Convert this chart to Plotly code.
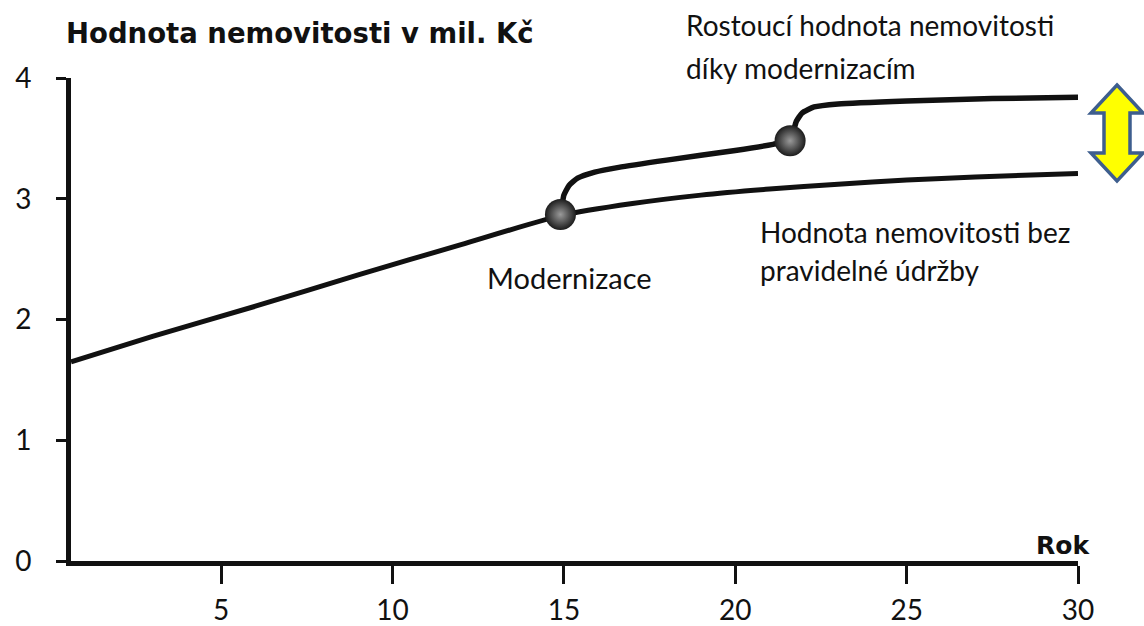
import plotly.graph_objects as go

# ---- data ----
years_base = [0.62, 3, 6, 9, 12, 14.9, 17, 19, 21, 23, 25, 27, 30]
value_base = [1.65, 1.86, 2.11, 2.37, 2.62, 2.86, 2.96, 3.03, 3.08, 3.12, 3.155, 3.18, 3.21]

years_mod = [14.9, 14.95, 15.0, 15.15, 15.4, 15.9, 16.6, 18, 20, 21.1, 21.6,
             21.7, 21.78, 21.95, 22.3, 23, 25, 27.5, 30]
value_mod = [2.87, 2.95, 3.03, 3.11, 3.17, 3.22, 3.26, 3.32, 3.40, 3.45, 3.48,
             3.56, 3.64, 3.71, 3.76, 3.785, 3.81, 3.83, 3.84]

event_years = [14.9, 21.6]
event_values = [2.87, 3.48]

x_ticks = [5, 10, 15, 20, 25, 30]
y_ticks = [0, 1, 2, 3, 4]

# ---- layout geometry (reference pixels of plot area) ----
W, H = 1144, 626
L, R, T, B = 71, 1078, 78, 561


def px(x):
    return (x - L) / (R - L)


def py(y):
    return (B - y) / (B - T)


FONT = "Lato"
TITLE_FONT = "DejaVu Sans"
fig = go.Figure()

fig.add_trace(go.Scatter(x=years_base, y=value_base, mode="lines",
                         line=dict(color="#111111", width=5, shape="spline", smoothing=0.6),
                         hoverinfo="skip", showlegend=False))
fig.add_trace(go.Scatter(x=years_mod, y=value_mod, mode="lines",
                         line=dict(color="#111111", width=5.5, shape="spline", smoothing=0.5),
                         hoverinfo="skip", showlegend=False))
fig.add_trace(go.Scatter(x=event_years, y=event_values, mode="markers",
                         marker=dict(size=31, color="#1c1c1c",
                                     gradient=dict(type="radial", color="#9a9a9a"),
                                     line=dict(width=0)),
                         hoverinfo="skip", showlegend=False))

fig.update_layout(
    width=W, height=H,
    margin=dict(l=L, r=W - R, t=T, b=H - B, pad=0, autoexpand=False),
    paper_bgcolor="white", plot_bgcolor="white",
    font=dict(family=FONT, color="#111111"),
    xaxis=dict(range=[0.62, 30], tickvals=x_ticks, ticktext=[str(v) for v in x_ticks],
               automargin=False,
               showgrid=False, zeroline=False, showline=True, linecolor="#111111", linewidth=5,
               ticks="outside", ticklen=18, tickwidth=2.5, tickcolor="#111111",
               tickfont=dict(size=28, family=FONT, color="#111111"), ticklabelstandoff=2),
    yaxis=dict(range=[0, 4], tickvals=y_ticks, ticktext=[str(v) for v in y_ticks],
               automargin=False,
               showgrid=False, zeroline=False, showline=True, linecolor="#111111", linewidth=5,
               ticks="outside", ticklen=10, tickwidth=2.5, tickcolor="#111111",
               tickfont=dict(size=28, family=FONT, color="#111111"), ticklabelstandoff=19),
)

ann = [
    dict(text="<b>Hodnota nemovitosti v mil. Kč</b>", x=px(64), y=py(33), xanchor="left", yanchor="middle", size=27.5, family=TITLE_FONT),
    dict(text="Rostoucí hodnota nemovitosti", x=px(684), y=py(25), xanchor="left", yanchor="middle", size=28, family=FONT),
    dict(text="díky modernizacím", x=px(684), y=py(68), xanchor="left", yanchor="middle", size=28, family=FONT),
    dict(text="Modernizace", x=px(569), y=py(277), xanchor="center", yanchor="middle", size=29, family=FONT),
    dict(text="Hodnota nemovitosti bez", x=px(758), y=py(232), xanchor="left", yanchor="middle", size=28, family=FONT),
    dict(text="pravidelné údržby", x=px(758), y=py(270), xanchor="left", yanchor="middle", size=28, family=FONT),
    dict(text="<b>Rok</b>", x=px(1092), y=py(545), xanchor="right", yanchor="middle", size=25, family=TITLE_FONT),
]
for a in ann:
    fig.add_annotation(text=a["text"], x=a["x"], y=a["y"], xref="paper", yref="paper",
                       xanchor=a["xanchor"], yanchor=a["yanchor"], showarrow=False,
                       font=dict(size=a["size"], family=a["family"], color="#111111"))

# yellow double-headed arrow (decoration)
pts = [(1117, 85), (1143, 113), (1130, 113), (1130, 153), (1143, 153), (1117, 181),
       (1091, 153), (1104, 153), (1104, 113), (1091, 113)]
path = "M " + " L ".join(f"{px(a):.5f},{py(b):.5f}" for a, b in pts) + " Z"
fig.add_shape(type="path", path=path, xref="paper", yref="paper",
              fillcolor="#FFFF00", line=dict(color="#3E5E8E", width=3.5), layer="above")

fig.write_html("out.html", config={"displayModeBar": False},
               post_script="document.body.style.margin='0';document.body.style.overflow='hidden';")
